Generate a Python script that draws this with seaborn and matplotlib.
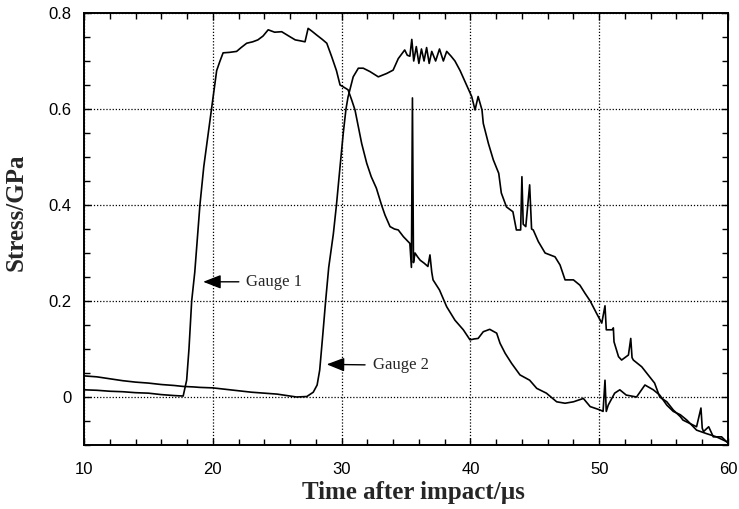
import numpy as np
import pandas as pd
import matplotlib
matplotlib.use("Agg")
import matplotlib.pyplot as plt
from matplotlib.ticker import MultipleLocator
import seaborn as sns

# ---- data ----
g1_time = [10.0, 11.0, 12.0, 13.0, 14.0, 15.0, 16.0, 17.0, 17.7, 17.97, 18.15, 18.36, 18.6, 18.8,
           19.0, 19.3, 19.6, 19.9, 20.1, 20.3, 20.56, 20.8, 21.3, 21.85, 22.2, 22.63, 23.1, 23.5,
           23.9, 24.3, 24.8, 25.35, 25.9, 26.4, 26.8, 27.16, 27.4, 27.7, 28.07, 28.5, 28.85, 29.23,
           29.6, 29.88, 30.2, 30.5, 30.78, 31.04, 31.56, 31.95, 32.3, 32.7, 33.1, 33.37, 33.76,
           34.1, 34.4, 34.8, 35.3, 35.42, 35.5, 35.58, 35.7, 35.9, 36.1, 36.4, 36.7, 36.86, 37.0,
           37.1, 37.6, 38.16, 38.8, 39.45, 39.97, 40.3, 40.6, 41.0, 41.5, 42.04, 42.3, 42.7, 43.2,
           43.85, 44.6, 45.15, 45.9, 46.7, 47.35, 48.0, 48.77, 49.3, 50.07, 50.3, 50.45, 50.55,
           50.7, 51.2, 51.6, 52.1, 52.9, 53.55, 54.2, 54.7, 55.25, 55.75, 56.3, 56.8, 57.56, 58.3,
           59.1, 59.9]
g1_stress = [0.015, 0.014, 0.012, 0.011, 0.009, 0.008, 0.005, 0.003, 0.002, 0.035, 0.10, 0.20, 0.26,
             0.33, 0.40, 0.48, 0.54, 0.60, 0.64, 0.68, 0.70, 0.717, 0.718, 0.720, 0.728, 0.737, 0.740,
             0.744, 0.752, 0.765, 0.760, 0.761, 0.752, 0.744, 0.742, 0.740, 0.768, 0.762, 0.754, 0.745,
             0.737, 0.709, 0.680, 0.650, 0.645, 0.640, 0.619, 0.598, 0.528, 0.487, 0.459, 0.435, 0.400,
             0.379, 0.355, 0.350, 0.348, 0.334, 0.320, 0.270, 0.623, 0.280, 0.300, 0.292, 0.285, 0.279,
             0.272, 0.296, 0.260, 0.244, 0.223, 0.188, 0.160, 0.140, 0.119, 0.121, 0.122, 0.136, 0.141,
             0.133, 0.112, 0.091, 0.070, 0.046, 0.035, 0.018, 0.008, -0.010, -0.013, -0.010, -0.003,
             -0.020, -0.027, -0.030, 0.035, -0.030, -0.017, 0.008, 0.015, 0.004, 0.000, 0.025, 0.015,
             0.004, -0.017, -0.030, -0.037, -0.048, -0.069, -0.076, -0.083, -0.093]

g2_time = [10.0, 11.0, 12.0, 13.0, 14.0, 15.0, 16.0, 17.0, 17.7, 18.5, 19.0, 20.0, 21.0, 22.0, 23.0,
           24.0, 25.0, 26.0, 26.5, 27.3, 27.8, 28.1, 28.3, 28.55, 28.76, 29.0, 29.36, 29.6, 29.88,
           30.13, 30.34, 30.5, 30.9, 31.3, 31.68, 32.2, 32.85, 33.5, 34.0, 34.4, 34.9, 35.1, 35.3,
           35.45, 35.6, 35.8, 36.0, 36.2, 36.4, 36.6, 36.8, 37.0, 37.3, 37.6, 37.9, 38.16, 38.5, 38.8,
           39.2, 39.7, 40.1, 40.36, 40.6, 40.9, 41.0, 41.4, 41.78, 42.2, 42.4, 42.8, 43.3, 43.57,
           43.9, 44.0, 44.1, 44.3, 44.6, 44.75, 44.88, 45.27, 45.8, 46.57, 46.96, 47.35, 48.0, 48.5,
           48.9, 49.3, 49.8, 50.2, 50.45, 50.55, 51.0, 51.1, 51.15, 51.5, 51.74, 52.27, 52.45, 52.55,
           52.65, 53.3, 53.8, 54.3, 54.7, 55.25, 55.75, 56.3, 56.5, 57.56, 57.9, 58.0, 58.1, 58.5,
           58.86, 59.5, 60.0]
g2_stress = [0.044, 0.042, 0.038, 0.034, 0.031, 0.029, 0.026, 0.024, 0.022, 0.021, 0.020, 0.019, 0.016,
             0.013, 0.010, 0.008, 0.006, 0.002, 0.000, 0.001, 0.010, 0.025, 0.056, 0.133, 0.200, 0.270,
             0.340, 0.400, 0.480, 0.550, 0.600, 0.625, 0.667, 0.685, 0.685, 0.678, 0.667, 0.674, 0.681,
             0.705, 0.723, 0.712, 0.710, 0.745, 0.700, 0.730, 0.695, 0.725, 0.700, 0.728, 0.695, 0.720,
             0.700, 0.725, 0.700, 0.720, 0.710, 0.700, 0.680, 0.650, 0.626, 0.598, 0.626, 0.598, 0.570,
             0.528, 0.494, 0.466, 0.425, 0.396, 0.386, 0.348, 0.348, 0.459, 0.360, 0.355, 0.442, 0.350,
             0.348, 0.324, 0.300, 0.292, 0.275, 0.244, 0.244, 0.233, 0.216, 0.200, 0.174, 0.154, 0.190,
             0.140, 0.140, 0.144, 0.115, 0.084, 0.077, 0.0875, 0.122, 0.082, 0.077, 0.063, 0.046, 0.029,
             0.000, -0.010, -0.027, -0.041, -0.048, -0.062, -0.023, -0.065, -0.072, -0.062, -0.083,
             -0.083, -0.096]

x_ticks = [10, 20, 30, 40, 50, 60]
y_ticks = [0, 0.2, 0.4, 0.6, 0.8]
y_tick_labels = ["0", "0.2", "0.4", "0.6", "0.8"]
labels = ["Gauge 1", "Gauge 2"]

df1 = pd.DataFrame({"time": g1_time, "stress": g1_stress})
df2 = pd.DataFrame({"time": g2_time, "stress": g2_stress})

sns.set_theme(style="ticks")
plt.rcParams["font.family"] = ["Liberation Sans", "DejaVu Sans"]

fig = plt.figure(figsize=(7.39, 5.09), dpi=100)
ax = fig.add_axes([84 / 739, 64 / 509, 644 / 739, 432 / 509])

sns.lineplot(data=df1, x="time", y="stress", estimator=None, sort=False,
             color="black", linewidth=1.2, ax=ax)
sns.lineplot(data=df2, x="time", y="stress", estimator=None, sort=False,
             color="black", linewidth=1.2, ax=ax)

ax.set_xlim(10, 60)
ax.set_ylim(-0.1, 0.8)
ax.set_xticks(x_ticks)
ax.set_yticks(y_ticks)
ax.set_yticklabels(y_tick_labels)
ax.xaxis.set_minor_locator(MultipleLocator(2))
ax.yaxis.set_minor_locator(MultipleLocator(0.05))

ax.tick_params(axis="both", which="both", direction="in", top=True, right=True,
               color="black", labelcolor="black", width=1.0)
ax.tick_params(axis="both", which="major", length=5, labelsize=12)
ax.tick_params(axis="both", which="minor", length=4.5)
ax.tick_params(axis="x", which="major", pad=12)
ax.tick_params(axis="y", which="major", pad=9)

for s in ax.spines.values():
    s.set_visible(True)
    s.set_color("black")
    s.set_linewidth(1.4)

ax.grid(True, which="major", linestyle=(0, (1, 1.5)), color="black", linewidth=0.9)

serif = ["Liberation Serif", "DejaVu Serif"]
ax.set_xlabel("Time after impact/\u00b5s", fontsize=18, fontweight="bold", family=serif)
ax.set_ylabel("Stress/GPa", fontsize=18, fontweight="bold", family=serif)
ax.xaxis.set_label_coords(0.511, -0.083)
ax.yaxis.set_label_coords(-0.087, 0.539)

arrow = dict(arrowstyle="-|>,head_length=0.9,head_width=0.35", color="black", lw=1.0,
             shrinkA=3, shrinkB=0)
ax.annotate(labels[0], xy=(19.25, 0.24), xytext=(22.6, 0.24), va="center", ha="left",
            fontsize=12, family=serif, arrowprops=arrow)
ax.annotate(labels[1], xy=(28.84, 0.068), xytext=(32.4, 0.066), va="center", ha="left",
            fontsize=12, family=serif, arrowprops=arrow)

fig.savefig("out.png", dpi=100)
